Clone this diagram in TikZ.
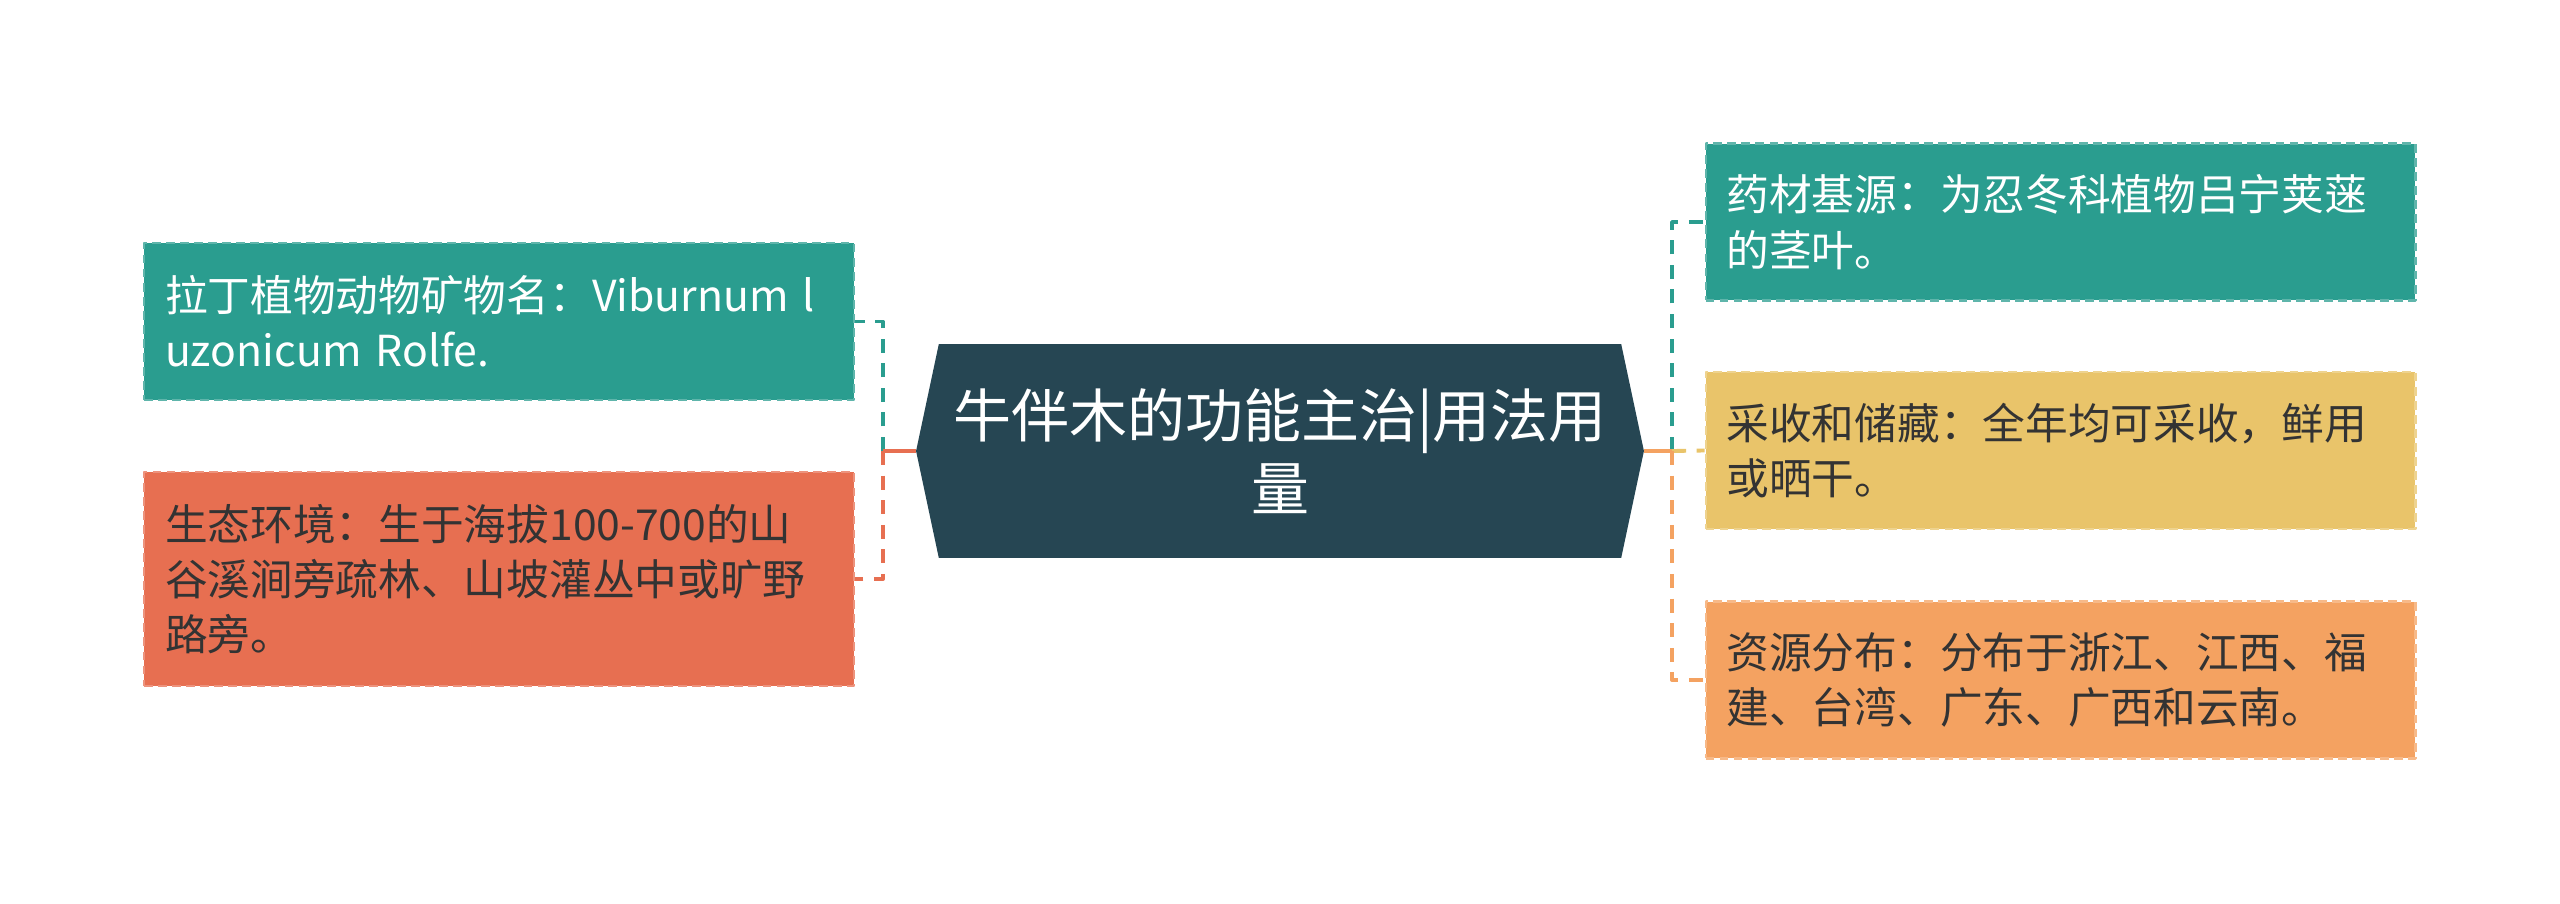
\documentclass[tikz,border=0pt]{standalone}
\usepackage{fontspec}
\newfontfamily\cjk{Noto Sans CJK SC}
\usetikzlibrary{shapes.symbols}
\definecolor{hubc}{HTML}{264653}
\definecolor{tealc}{HTML}{2A9D8F}
\definecolor{sandc}{HTML}{E9C46A}
\definecolor{orangec}{HTML}{F4A261}
\definecolor{redc}{HTML}{E76F51}
\definecolor{inkc}{HTML}{333333}
\begin{document}
\begin{tikzpicture}[x=0.02cm,y=-0.02cm, line join=round,
	leaf/.style={rectangle, fill=#1, draw=#1!75!white, dash pattern=on 5pt off 3pt, line width=1.2pt,
		minimum width=14.2cm, text width=13.36cm, inner xsep=0.42cm, align=left,
		font=\cjk\fontsize{24.3}{31.5}\selectfont},
	hub/.style={shape=signal, signal to=west and east, signal pointer angle=156, fill=hubc, text=white,
		minimum width=14.56cm, minimum height=4.28cm, align=center,
		font=\cjk\fontsize{33}{41.5}\selectfont},
	link/.style={draw=#1, line width=2.2pt, dash pattern=on 8pt off 6pt},
	stem/.style={draw=#1, line width=2.2pt}]
	\useasboundingbox (0,0) rectangle (2560,903);
	% centre
	\node[hub] (root) at (1280,451) {牛伴木的功能主治|用法用\\量};
	\coordinate (jl) at (883,451);
	\coordinate (jr) at (1672,451);
	% left side
	\node[leaf=tealc, text=white, minimum height=3.14cm] (lt) at (499,321.5) {拉丁植物动物矿物名：Viburnum l\\uzonicum Rolfe.};
	\node[leaf=redc, text=inkc, minimum height=4.28cm] (lb) at (499,579) {生态环境：生于海拔100-700的山\\谷溪涧旁疏林、山坡灌丛中或旷野\\路旁。};
	% right side
	\node[leaf=tealc, text=white, minimum height=3.14cm] (rt) at (2060.5,222) {药材基源：为忍冬科植物吕宁荚蒾\\的茎叶。};
	\node[leaf=sandc, text=inkc, minimum height=3.14cm] (rm) at (2060.5,450.5) {采收和储藏：全年均可采收，鲜用\\或晒干。};
	\node[leaf=orangec, text=inkc, minimum height=3.14cm] (rb) at (2060.5,680) {资源分布：分布于浙江、江西、福\\建、台湾、广东、广西和云南。};
	\draw[link=tealc] (jl) |- (lt.east);
	\draw[link=redc] (jl) |- (lb.east);
	\draw[stem=redc] (root.west) -- (jl);
	\draw[link=tealc] (jr) |- (rt.west);
	\draw[link=sandc] (jr) -- (rm.west);
	\draw[link=orangec] (jr) |- (rb.west);
	\draw[stem=orangec] (root.east) -- (jr);
\end{tikzpicture}
\end{document}
